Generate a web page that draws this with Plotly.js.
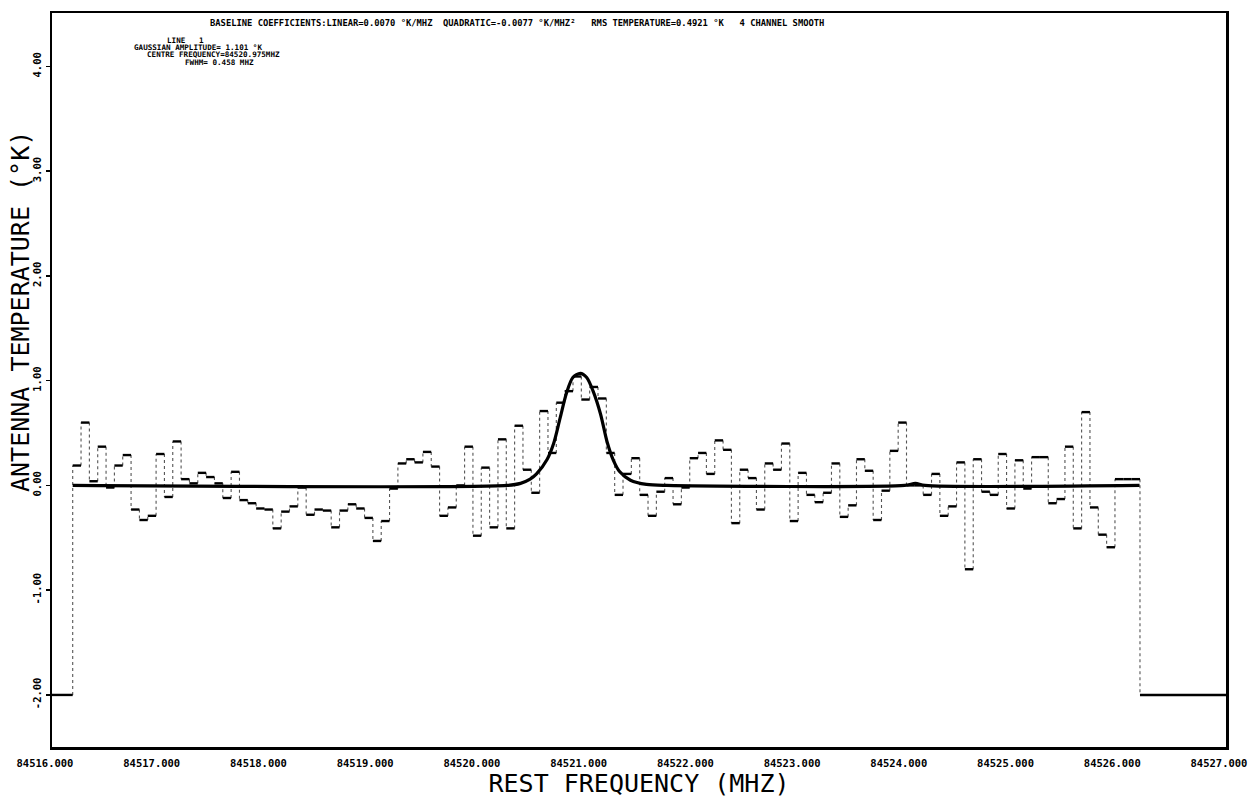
<!DOCTYPE html>
<html>
<head>
<meta charset="utf-8">
<script src="https://cdn.plot.ly/plotly-3.0.1.min.js"></script>
<style>
  html, body { margin: 0; padding: 0; background: #ffffff; }
  #chart { width: 1251px; height: 798px; }
</style>
</head>
<body>
<div id="chart"></div>
<script>
// ---------------- data ----------------
const channelStartMHz = 84516.194;   // left edge of first channel
const channelWidthMHz = 0.078125;    // channel spacing
const antennaTempK = [
  0.19, 0.60, 0.04, 0.37, -0.02, 0.19, 0.29, -0.23, -0.33, -0.29,
  0.30, -0.11, 0.42, 0.06, 0.02, 0.12, 0.08, 0.02, -0.12, 0.13,
  -0.14, -0.17, -0.22, -0.23, -0.41, -0.25, -0.20, -0.02, -0.28, -0.23,
  -0.24, -0.40, -0.24, -0.18, -0.22, -0.31, -0.53, -0.34, -0.03, 0.21,
  0.25, 0.22, 0.32, 0.18, -0.29, -0.21, 0.00, 0.37, -0.48, 0.17,
  -0.40, 0.44, -0.41, 0.57, 0.15, -0.07, 0.71, 0.31, 0.79, 0.90,
  1.04, 0.82, 0.94, 0.83, 0.31, -0.09, 0.11, 0.26, -0.09, -0.29,
  -0.06, 0.07, -0.18, -0.02, 0.26, 0.31, 0.11, 0.43, 0.34, -0.36,
  0.15, 0.07, -0.23, 0.21, 0.15, 0.40, -0.34, 0.12, -0.09, -0.16,
  -0.07, 0.21, -0.30, -0.19, 0.25, 0.14, -0.33, -0.05, 0.33, 0.60,
  0.00, 0.00, -0.09, 0.11, -0.29, -0.20, 0.22, -0.80, 0.25, -0.06,
  -0.09, 0.30, -0.22, 0.24, -0.03, 0.27, 0.27, -0.17, -0.13, 0.37,
  -0.41, 0.70, -0.21, -0.47, -0.59, 0.06, 0.06, 0.06
];
const edgeTempK = -2.0;               // level drawn outside the observed band
const axisStartMHz = 84516;
const axisEndMHz = 84527;

// Gaussian fit line
const fitFreqMHz = [84516.194, 84520.26, 84520.39, 84520.48, 84520.54, 84520.64, 84520.70,
  84520.76, 84520.82, 84520.88, 84520.95, 84521.01, 84521.07, 84521.14, 84521.20,
  84521.26, 84521.32, 84521.42, 84521.57, 84521.76, 84523.99, 84524.09, 84524.18, 84526.19];
const fitTempK = [0, 0, 0.02, 0.06, 0.11, 0.25, 0.40,
  0.64, 0.88, 1.03, 1.07, 1.03, 0.90, 0.68, 0.42,
  0.24, 0.13, 0.05, 0.01, 0, 0, 0.02, 0, 0];

const xTickVals = [84516, 84517, 84518, 84519, 84520, 84521, 84522, 84523, 84524, 84525, 84526, 84527];
const yTickVals = [-2, -1, 0, 1, 2, 3, 4];
const yTickText = ["-2.00", "-1.00", "0.00", "1.00", "2.00", "3.00", "4.00"];

const headerLine = "BASELINE COEFFICIENTS:LINEAR=0.0070 °K/MHZ  QUADRATIC=-0.0077 °K/MHZ²   RMS TEMPERATURE=0.4921 °K   4 CHANNEL SMOOTH";
const fitLines = ["LINE   1", "GAUSSIAN AMPLITUDE= 1.101 °K", "CENTRE FREQUENCY=84520.975MHZ", "FWHM= 0.458 MHZ"];

// ---------------- build step segments ----------------
const edges = antennaTempK.map((_, i) => channelStartMHz + i * channelWidthMHz);
const bandEnd = channelStartMHz + antennaTempK.length * channelWidthMHz;
edges.push(bandEnd);

const hx = [axisStartMHz, channelStartMHz, null];
const hy = [edgeTempK, edgeTempK, null];
antennaTempK.forEach((v, i) => { hx.push(edges[i], edges[i + 1], null); hy.push(v, v, null); });
hx.push(bandEnd, axisEndMHz, null); hy.push(edgeTempK, edgeTempK, null);

const vx = [channelStartMHz, channelStartMHz, null];
const vy = [edgeTempK, antennaTempK[0], null];
for (let i = 0; i < antennaTempK.length - 1; i++) {
  vx.push(edges[i + 1], edges[i + 1], null);
  vy.push(antennaTempK[i], antennaTempK[i + 1], null);
}
vx.push(bandEnd, bandEnd, null);
vy.push(antennaTempK[antennaTempK.length - 1], edgeTempK, null);

// ---------------- layout helpers ----------------
const L = 52, R = 1226, T = 13, B = 747;
const px = x => (x - L) / (R - L);
const py = y => (B - y) / (B - T);
const nb = s => s.replace(/ /g, "\u00A0");

const monoBold = { family: "DejaVu Sans Mono", color: "#000", weight: 700 };

const annotations = [
  { text: nb(headerLine), x: px(208), y: py(23), font: Object.assign({}, monoBold, { size: 8.8 }) },
  { text: nb(fitLines[0]), x: px(165), y: py(40), font: Object.assign({}, monoBold, { size: 7.6 }) },
  { text: nb(fitLines[1]), x: px(132), y: py(47.5), font: Object.assign({}, monoBold, { size: 7.6 }) },
  { text: nb(fitLines[2]), x: px(145), y: py(55), font: Object.assign({}, monoBold, { size: 7.6 }) },
  { text: nb(fitLines[3]), x: px(183), y: py(62), font: Object.assign({}, monoBold, { size: 7.6 }) }
].map(a => Object.assign({ xref: "paper", yref: "paper", xanchor: "left", yanchor: "middle", showarrow: false }, a));

annotations.push({
  text: nb("ANTENNA TEMPERATURE (°K)"), textangle: -90,
  xref: "paper", yref: "paper", x: px(20), y: py(312), xanchor: "center", yanchor: "middle",
  showarrow: false, font: { family: "DejaVu Sans Mono", size: 25, color: "#000" }
});

const traces = [
  { x: vx, y: vy, type: "scatter", mode: "lines", hoverinfo: "skip",
    line: { color: "#555", width: 1.1, dash: "dot" } },
  { x: hx, y: hy, type: "scatter", mode: "lines", hoverinfo: "skip",
    line: { color: "#000", width: 2.4 } },
  { x: fitFreqMHz, y: fitTempK, type: "scatter", mode: "lines", hoverinfo: "skip",
    line: { color: "#000", width: 3.2, shape: "spline", smoothing: 0.8 } }
];

const layout = {
  width: 1251, height: 798,
  margin: { l: L, r: 1251 - R, t: T, b: 798 - B, pad: 0 },
  paper_bgcolor: "#fff", plot_bgcolor: "#fff",
  showlegend: false,
  xaxis: {
    range: [axisStartMHz, axisEndMHz], tickvals: xTickVals, tickformat: ".3f",
    showgrid: false, zeroline: false, showline: true, mirror: true,
    linecolor: "#000", linewidth: 2.5, ticks: "",
    ticklabelshift: -7, ticklabelstandoff: 5,
    tickfont: { family: "DejaVu Sans Mono", size: 10.5, color: "#000", weight: 700 },
    title: { text: "REST FREQUENCY (MHZ)", standoff: 10,
      font: { family: "DejaVu Sans Mono", size: 25, color: "#000" } }
  },
  yaxis: {
    range: [-2.497, 4.51], tickvals: yTickVals, ticktext: yTickText, tickangle: -90,
    showgrid: false, zeroline: false, showline: true, mirror: true,
    linecolor: "#000", linewidth: 2.5, ticks: "outside", ticklen: 4, tickwidth: 1.5, tickcolor: "#000",
    ticklabelstandoff: 0,
    tickfont: { family: "DejaVu Sans Mono", size: 10.5, color: "#000", weight: 700 }
  },
  annotations: annotations
};

Plotly.newPlot("chart", traces, layout, { displayModeBar: false, staticPlot: true });
</script>
</body>
</html>
